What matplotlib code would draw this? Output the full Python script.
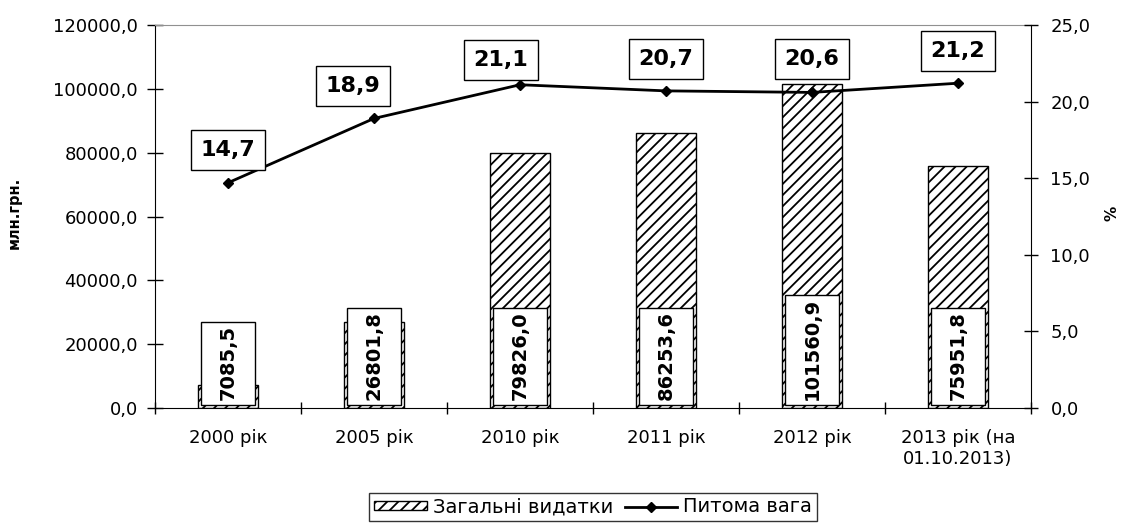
import numpy as np
import matplotlib
matplotlib.use("Agg")
import matplotlib.pyplot as plt
from matplotlib.patches import Rectangle, Patch
from matplotlib.lines import Line2D
from matplotlib.ticker import FuncFormatter, FixedLocator
from matplotlib.transforms import IdentityTransform

# дані
years = ["2000 рік", "2005 рік", "2010 рік", "2011 рік", "2012 рік",
         "2013 рік (на\n01.10.2013)"]
spend = [7085.5, 26801.8, 79826.0, 86253.6, 101560.9, 75951.8]
share = [14.7, 18.9, 21.1, 20.7, 20.6, 21.2]
# зсув підписів частки (пікселі)
lab_dx = [0, -21, -19, 0, 0, 0]
lab_dy = [33, 32, 25, 32, 33, 32]

plt.rcParams['font.family'] = ['DejaVu Sans']
plt.rcParams['hatch.linewidth'] = 1.3

fig = plt.figure(figsize=(11.24, 5.23), dpi=100)
ax = fig.add_axes([155/1124, 1-408/523, (1031-155)/1124, (408-25)/523])
x = np.arange(len(years))

ax.bar(x, spend, width=0.41, color='white', edgecolor='black',
       hatch='///', linewidth=1, zorder=2)
ax.set_xlim(-0.5, 5.5)
ax.set_ylim(0, 120000)
ax.set_yticks(np.arange(0, 120001, 20000))
fmt = FuncFormatter(lambda v, p: ("%.1f" % v).replace('.', ','))
ax.yaxis.set_major_formatter(fmt)
ax.set_xticks(x)
ax.set_xticklabels(years, fontsize=13)
ax.xaxis.set_minor_locator(FixedLocator(np.arange(-0.5, 6, 1)))
ax.tick_params(axis='x', which='major', length=0, pad=15)
ax.tick_params(axis='x', which='minor', direction='inout', length=8, width=1)
ax.tick_params(axis='y', direction='inout', length=11, width=1, labelsize=13, pad=7)
ax.spines['top'].set_color('#909090')
ax.spines['right'].set_visible(False)

ax2 = ax.twinx()
ax2.plot(x, share, color='black', lw=2, marker='D', ms=5, zorder=3)
ax2.set_ylim(0, 25)
ax2.set_yticks(np.arange(0, 26, 5))
ax2.yaxis.set_major_formatter(fmt)
ax2.tick_params(axis='y', direction='inout', length=10, width=1, labelsize=13, pad=9)
ax2.spines['top'].set_visible(False)
ax2.spines['left'].set_visible(False)
ax2.spines['bottom'].set_visible(False)

for i in range(len(x)):
    ax2.annotate(("%.1f" % share[i]).replace('.', ','), (x[i], share[i]),
                 xytext=(lab_dx[i], lab_dy[i]), textcoords='offset pixels',
                 ha='center', va='center', fontsize=16, fontweight='bold',
                 bbox=dict(boxstyle='square,pad=0.45', fc='white', ec='black', lw=1),
                 zorder=5)

# підписи стовпців
bar_txt = []
for i in range(len(x)):
    t = ax.annotate(("%.1f" % spend[i]).replace('.', ','), (x[i], 0),
                    xytext=(0, 8), textcoords='offset pixels',
                    rotation=90, ha='center', va='bottom', fontsize=14,
                    fontweight='bold', zorder=6)
    bar_txt.append(t)

fig.canvas.draw()
r = fig.canvas.get_renderer()
for t in bar_txt:
    bb = t.get_window_extent(r)
    cx = (bb.x0 + bb.x1) / 2
    ax.add_patch(Rectangle((cx - 27, bb.y0 - 5), 54, bb.height + 8,
                           transform=IdentityTransform(), fc='white',
                           ec='black', lw=1, zorder=4))

fig.text(14/1124, 1-213/523, "млн.грн.", rotation=90, ha='center', va='center',
         fontsize=10.5, fontweight='bold')
fig.text(1112/1124, 1-213/523, "%", rotation=90, ha='center', va='center',
         fontsize=11, fontweight='bold')

handles = [Patch(fc='white', ec='black', hatch='///', lw=1),
           Line2D([0], [0], color='black', lw=2, marker='D', ms=5)]
leg = fig.legend(handles, ["Загальні видатки", "Питома вага"], loc='center',
                 bbox_to_anchor=(593/1124, 1-507/523), ncol=2, fontsize=14,
                 frameon=True, fancybox=False, edgecolor='black',
                 handlelength=2.7, handletextpad=0.3, columnspacing=0.6,
                 borderpad=0.25, handleheight=0.4)
leg.get_frame().set_linewidth(1)

fig.savefig("out.png", dpi=100)
